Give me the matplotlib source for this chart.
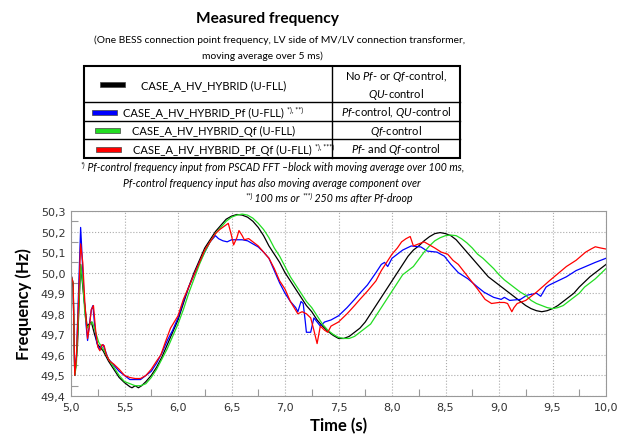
import numpy as np
import matplotlib.pyplot as plt
from matplotlib.patches import Rectangle
from matplotlib.ticker import MultipleLocator, FuncFormatter

plt.rcParams['font.family'] = ['Lato', 'DejaVu Sans']
plt.rcParams['mathtext.fontset'] = 'custom'
plt.rcParams['mathtext.rm'] = 'Lato'
plt.rcParams['mathtext.it'] = 'Lato:italic'
plt.rcParams['mathtext.bf'] = 'Lato:bold'

# --- measured frequency, 4 cases ---
t_base = [5.00, 5.02, 5.035, 5.06, 5.09, 5.12, 5.15, 5.19, 5.22, 5.25, 5.30, 5.35, 5.40, 5.45,
          5.50, 5.55, 5.57, 5.60, 5.63, 5.66, 5.70, 5.75, 5.80, 5.85, 5.90, 5.95, 6.00, 6.05,
          6.10, 6.15, 6.20, 6.25, 6.30, 6.35, 6.40, 6.45, 6.50, 6.55, 6.60, 6.65, 6.70, 6.75,
          6.80, 6.85, 6.90, 6.95, 7.00, 7.05, 7.10, 7.15, 7.20, 7.25, 7.30, 7.35, 7.40, 7.45,
          7.50, 7.55, 7.60, 7.65, 7.70, 7.75, 7.80, 7.85, 7.90, 7.95, 8.00, 8.05, 8.10, 8.15,
          8.20, 8.25, 8.30, 8.35, 8.40, 8.45, 8.50, 8.55, 8.60, 8.65, 8.70, 8.75, 8.80, 8.85,
          8.90, 8.95, 9.00, 9.05, 9.10, 9.15, 9.20, 9.25, 9.30, 9.35, 9.40, 9.45, 9.50, 9.55,
          9.60, 9.65, 9.70, 9.75, 9.80, 9.85, 9.90, 9.95, 10.00]
f_base = [49.99, 49.93, 49.50, 49.64, 50.04, 49.88, 49.74, 49.76, 49.70, 49.65, 49.62, 49.57, 49.53, 49.49,
          49.465, 49.445, 49.44, 49.45, 49.44, 49.45, 49.47, 49.50, 49.54, 49.59, 49.65, 49.71, 49.77, 49.85,
          49.93, 50.00, 50.06, 50.12, 50.16, 50.20, 50.23, 50.26, 50.275, 50.283, 50.28, 50.27, 50.25, 50.22,
          50.18, 50.13, 50.09, 50.05, 50.00, 49.96, 49.92, 49.88, 49.84, 49.81, 49.77, 49.74, 49.715, 49.695,
          49.68, 49.68, 49.69, 49.71, 49.73, 49.76, 49.80, 49.84, 49.88, 49.92, 49.96, 50.00, 50.04, 50.08,
          50.11, 50.13, 50.155, 50.175, 50.19, 50.195, 50.19, 50.18, 50.16, 50.13, 50.10, 50.07, 50.04, 50.01,
          49.98, 49.96, 49.94, 49.92, 49.90, 49.88, 49.86, 49.84, 49.825, 49.815, 49.81, 49.815, 49.825, 49.84,
          49.86, 49.88, 49.90, 49.93, 49.955, 49.98, 50.00, 50.02, 50.04]

t_pf = [5.00, 5.02, 5.035, 5.05, 5.07, 5.09, 5.10, 5.12, 5.14, 5.155, 5.17, 5.19, 5.205, 5.22, 5.24,
        5.26, 5.28, 5.30, 5.32, 5.35, 5.40, 5.45, 5.50, 5.55, 5.60, 5.65, 5.70, 5.75, 5.80, 5.85,
        5.90, 5.95, 6.00, 6.05, 6.10, 6.15, 6.20, 6.25, 6.30, 6.35, 6.38, 6.42, 6.46, 6.50, 6.55,
        6.60, 6.65, 6.70, 6.75, 6.80, 6.85, 6.90, 6.95, 7.00, 7.05, 7.10, 7.12, 7.15, 7.17, 7.19,
        7.20, 7.24, 7.27, 7.30, 7.33, 7.37, 7.43, 7.50, 7.58, 7.65, 7.70, 7.77, 7.85, 7.90, 7.93,
        7.96, 8.00, 8.05, 8.10, 8.18, 8.27, 8.33, 8.42, 8.49, 8.55, 8.62, 8.71, 8.80, 8.86, 8.95,
        9.02, 9.05, 9.10, 9.20, 9.26, 9.35, 9.39, 9.44, 9.47, 9.55, 9.63, 9.72, 9.81, 9.90, 10.00]
f_pf = [49.99, 49.95, 49.50, 49.58, 49.90, 50.22, 50.12, 49.90, 49.75, 49.67, 49.74, 49.82, 49.84, 49.75, 49.66,
        49.63, 49.64, 49.65, 49.62, 49.58, 49.55, 49.52, 49.50, 49.48, 49.48, 49.48, 49.50, 49.52, 49.56, 49.61,
        49.67, 49.72, 49.78, 49.86, 49.93, 49.99, 50.05, 50.10, 50.15, 50.18, 50.165, 50.155, 50.15, 50.16, 50.16,
        50.16, 50.155, 50.14, 50.125, 50.10, 50.07, 50.01, 49.95, 49.90, 49.86, 49.83, 49.81, 49.86, 49.85, 49.76,
        49.71, 49.71, 49.78, 49.76, 49.74, 49.76, 49.77, 49.79, 49.83, 49.87, 49.90, 49.94, 50.00, 50.04, 50.05,
        50.03, 50.07, 50.09, 50.11, 50.13, 50.125, 50.105, 50.10, 50.08, 50.04, 50.00, 49.97, 49.93, 49.905, 49.88,
        49.87, 49.88, 49.865, 49.87, 49.89, 49.90, 49.885, 49.93, 49.94, 49.96, 49.98, 50.01, 50.03, 50.05, 50.07]

t_qf = [5.00, 5.02, 5.035, 5.05, 5.07, 5.09, 5.11, 5.13, 5.15, 5.18, 5.20, 5.23, 5.26, 5.30, 5.35,
        5.40, 5.45, 5.50, 5.55, 5.60, 5.65, 5.70, 5.75, 5.80, 5.85, 5.90, 5.95, 6.00, 6.05, 6.10,
        6.15, 6.20, 6.25, 6.30, 6.35, 6.40, 6.45, 6.50, 6.55, 6.60, 6.65, 6.70, 6.75, 6.80, 6.85,
        6.90, 6.95, 7.00, 7.05, 7.10, 7.15, 7.20, 7.25, 7.30, 7.35, 7.40, 7.45, 7.50, 7.55, 7.60,
        7.65, 7.70, 7.75, 7.80, 7.85, 7.90, 7.95, 8.00, 8.05, 8.10, 8.15, 8.20, 8.25, 8.30, 8.35,
        8.40, 8.45, 8.50, 8.55, 8.60, 8.65, 8.70, 8.75, 8.80, 8.85, 8.90, 8.95, 9.00, 9.05, 9.10,
        9.15, 9.20, 9.25, 9.30, 9.35, 9.40, 9.45, 9.50, 9.55, 9.60, 9.65, 9.70, 9.75, 9.80, 9.85,
        9.90, 9.95, 10.00]
f_qf = [49.99, 49.95, 49.50, 49.55, 49.80, 50.04, 49.95, 49.80, 49.73, 49.75, 49.76, 49.71, 49.66, 49.63, 49.58,
        49.54, 49.50, 49.47, 49.46, 49.45, 49.45, 49.46, 49.49, 49.53, 49.58, 49.63, 49.69, 49.75, 49.82, 49.90,
        49.97, 50.04, 50.10, 50.15, 50.19, 50.22, 50.25, 50.27, 50.28, 50.285, 50.28, 50.265, 50.24, 50.21, 50.17,
        50.12, 50.08, 50.03, 49.98, 49.94, 49.90, 49.86, 49.83, 49.79, 49.75, 49.72, 49.70, 49.685, 49.68, 49.68,
        49.69, 49.71, 49.73, 49.75, 49.79, 49.83, 49.87, 49.91, 49.95, 49.99, 50.01, 50.03, 50.065, 50.10, 50.13,
        50.155, 50.17, 50.18, 50.183, 50.18, 50.165, 50.145, 50.12, 50.09, 50.07, 50.045, 50.02, 49.99, 49.965, 49.945,
        49.925, 49.905, 49.89, 49.865, 49.85, 49.84, 49.83, 49.825, 49.83, 49.84, 49.86, 49.88, 49.90, 49.93, 49.95,
        49.97, 49.995, 50.02]

t_pfqf = [5.00, 5.02, 5.035, 5.05, 5.07, 5.09, 5.11, 5.13, 5.155, 5.17, 5.19, 5.21, 5.23, 5.25, 5.27,
          5.29, 5.31, 5.33, 5.36, 5.40, 5.45, 5.50, 5.55, 5.60, 5.65, 5.70, 5.75, 5.80, 5.84, 5.88,
          5.93, 6.00, 6.05, 6.10, 6.15, 6.20, 6.25, 6.30, 6.35, 6.39, 6.43, 6.47, 6.50, 6.52, 6.55,
          6.57, 6.60, 6.62, 6.66, 6.70, 6.75, 6.80, 6.85, 6.90, 6.95, 7.00, 7.05, 7.12, 7.16, 7.20,
          7.24, 7.27, 7.30, 7.33, 7.37, 7.40, 7.43, 7.50, 7.58, 7.65, 7.70, 7.77, 7.85, 7.90, 7.95,
          8.00, 8.05, 8.09, 8.13, 8.17, 8.20, 8.25, 8.30, 8.35, 8.40, 8.46, 8.52, 8.57, 8.62, 8.68,
          8.74, 8.80, 8.87, 8.93, 9.00, 9.05, 9.08, 9.10, 9.12, 9.14, 9.17, 9.25, 9.35, 9.47, 9.55,
          9.63, 9.72, 9.81, 9.86, 9.90, 9.95, 10.00]
f_pfqf = [49.99, 49.95, 49.50, 49.58, 49.85, 50.14, 50.05, 49.85, 49.68, 49.73, 49.82, 49.84, 49.72, 49.64, 49.62,
          49.65, 49.645, 49.60, 49.57, 49.555, 49.53, 49.50, 49.49, 49.485, 49.485, 49.50, 49.53, 49.57, 49.60, 49.66,
          49.73, 49.79, 49.87, 49.93, 49.99, 50.05, 50.11, 50.15, 50.19, 50.21, 50.225, 50.24, 50.18, 50.135, 50.17,
          50.205, 50.18, 50.16, 50.166, 50.15, 50.13, 50.10, 50.07, 50.02, 49.96, 49.92, 49.86, 49.80, 49.81, 49.80,
          49.78, 49.72, 49.655, 49.74, 49.72, 49.71, 49.74, 49.76, 49.80, 49.84, 49.87, 49.91, 49.96, 50.01, 50.05,
          50.09, 50.12, 50.15, 50.165, 50.176, 50.13, 50.14, 50.15, 50.135, 50.12, 50.10, 50.09, 50.06, 50.04, 50.00,
          49.96, 49.92, 49.87, 49.85, 49.855, 49.855, 49.85, 49.83, 49.81, 49.83, 49.85, 49.865, 49.905, 49.96, 49.995,
          50.03, 50.06, 50.10, 50.115, 50.126, 50.12, 50.115]

case_names = ['CASE_A_HV_HYBRID (U-FLL)', 'CASE_A_HV_HYBRID_Pf (U-FLL)',
              'CASE_A_HV_HYBRID_Qf (U-FLL)', 'CASE_A_HV_HYBRID_Pf_Qf (U-FLL)']
case_marks = ['', '*), **)', '', '*), ***)']
case_ctrl = ['No $Pf$- or $Qf$-control,\n$QU$-control',
             '$Pf$-control, $QU$-control',
             '$Qf$-control',
             '$Pf$- and $Qf$-control']
colors = ['#000000', '#0000ff', '#22dd22', '#ff0000']

W, H = 632, 439
fig = plt.figure(figsize=(W / 100, H / 100), dpi=100)
renderer = fig.canvas.get_renderer()

# pixel-coordinate canvas for the header and the legend table
cv = fig.add_axes([0, 0, 1, 1])
cv.set_xlim(0, W)
cv.set_ylim(H, 0)
cv.axis('off')

FS = 8.0
SUP = 5.0


def text_width(s, **kw):
    t = cv.text(0, 0, s, **kw)
    w = t.get_window_extent(renderer).width
    t.remove()
    return w


def run(xc, y, parts, style='normal', fs=FS):
    """Draw a centred line made of (text, is_superscript) pieces."""
    widths = [text_width(s, fontsize=SUP if sup else fs, style=style) for s, sup in parts]
    x = xc - sum(widths) / 2
    for (s, sup), w in zip(parts, widths):
        if sup:
            cv.text(x, y - 3, s, ha='left', va='center', fontsize=SUP, style=style)
        else:
            cv.text(x, y, s, ha='left', va='center', fontsize=fs, style=style)
        x += w


cv.text(267, 19, 'Measured frequency', ha='center', va='center', fontsize=11.2, fontweight='bold')
cv.text(280, 40, '(One BESS connection point frequency, LV side of MV/LV connection transformer,',
        ha='center', va='center', fontsize=7.4)
cv.text(262, 56, 'moving average over 5 ms)', ha='center', va='center', fontsize=7.4)

# table
tx0, tx1, tmid = 84, 460, 332
rows = [67, 103, 122, 140, 159]
cv.add_patch(Rectangle((tx0, rows[0]), tx1 - tx0, rows[-1] - rows[0], fill=False,
                       lw=1.5, edgecolor='black'))
cv.plot([tmid, tmid], [rows[0], rows[-1]], color='black', lw=1.0)
for ry in rows[1:-1]:
    cv.plot([tx0, tx1], [ry, ry], color='black', lw=1.0)

sample_x = [100, 92, 95, 96]
text_x = [141, 123, 132, 133]
for i in range(4):
    yc = (rows[i] + rows[i + 1]) / 2 + 0.5
    cv.add_patch(Rectangle((sample_x[i], yc - 2.5), 25, 5, facecolor=colors[i],
                           edgecolor='#444444', lw=0.5))
    cv.text(text_x[i], yc, case_names[i], ha='left', va='center', fontsize=FS)
    if case_marks[i]:
        w = text_width(case_names[i], fontsize=FS)
        cv.text(text_x[i] + w + 3, yc - 3, case_marks[i], ha='left', va='center', fontsize=SUP)
    cv.text((tmid + tx1) / 2, yc, case_ctrl[i], ha='center', va='center', fontsize=FS,
            linespacing=1.3)

# footnotes
run(272, 168, [('*)', True), (' Pf-control frequency input from PSCAD FFT –block with moving average over 100 ms,', False)],
    style='italic', fs=7.6)
run(272, 184, [('Pf-control frequency input has also moving average component over', False)],
    style='italic', fs=7.6)
run(329, 199, [('**)', True), (' 100 ms or ', False), ('***)', True), (' 250 ms after Pf-droop', False)],
    style='italic', fs=7.6)

# frequency plot
ax = fig.add_axes([71 / W, 1 - 397 / H, (606 - 71) / W, (397 - 212) / H])
ax.plot(t_base, f_base, color=colors[0], lw=0.9)
ax.plot(t_pf, f_pf, color=colors[1], lw=0.9)
ax.plot(t_qf, f_qf, color=colors[2], lw=0.9)
ax.plot(t_pfqf, f_pfqf, color=colors[3], lw=0.9)

ax.set_xlim(5.0, 10.0)
ax.set_ylim(49.4, 50.3)
ax.xaxis.set_major_locator(MultipleLocator(0.5))
ax.xaxis.set_minor_locator(MultipleLocator(0.25))
ax.yaxis.set_major_locator(MultipleLocator(0.1))
ax.yaxis.set_minor_locator(MultipleLocator(0.05))
comma = FuncFormatter(lambda v, p: f'{v:.1f}'.replace('.', ','))
ax.xaxis.set_major_formatter(comma)
ax.yaxis.set_major_formatter(comma)
ax.grid(True, which='major', color='#aaaaaa', linestyle=':', linewidth=0.8)
ax.tick_params(which='major', length=0, labelsize=8, labelcolor='#333333', pad=4)
ax.tick_params(which='minor', direction='in', length=5, color='#999999', width=0.8)
for tl in ax.get_xticklabels() + ax.get_yticklabels():
    tl.set_family('DejaVu Sans')
for sp in ax.spines.values():
    sp.set_color('#999999')
    sp.set_linewidth(0.8)

ax.set_xlabel('Time (s)', fontsize=12, fontweight='bold', labelpad=4)
ax.set_ylabel('Frequency (Hz)', fontsize=12, fontweight='bold', labelpad=6)

fig.savefig('out.png', dpi=100)
